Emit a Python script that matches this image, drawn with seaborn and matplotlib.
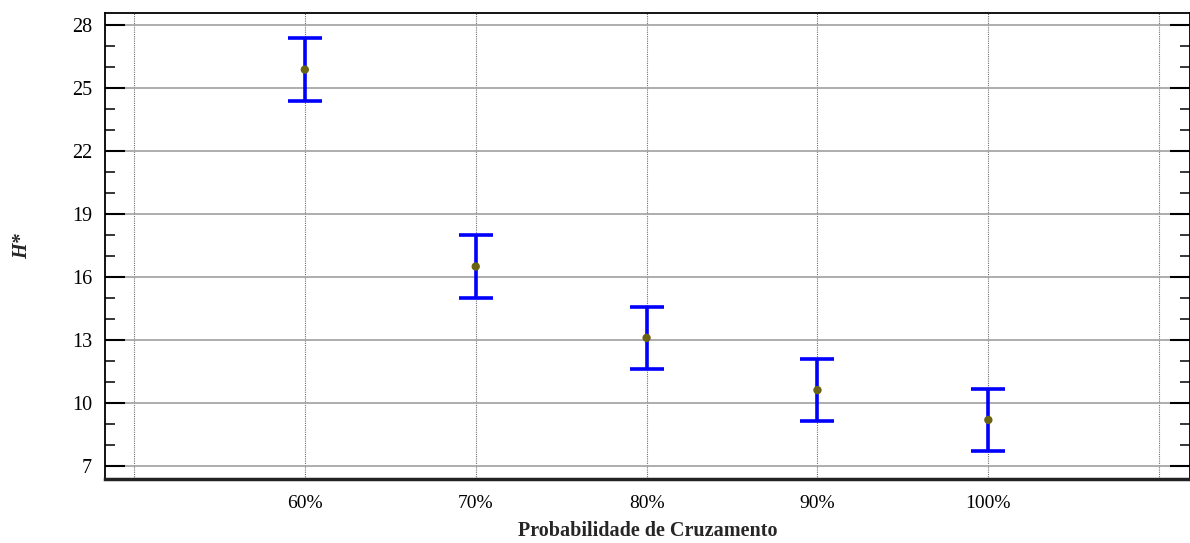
import matplotlib
matplotlib.use("Agg")
import matplotlib.pyplot as plt
from matplotlib.ticker import FixedLocator
import seaborn as sns
import pandas as pd

# Crossover probability levels and the mean H* with its interval half-width
categories = ["60%", "70%", "80%", "90%", "100%"]
mean_h = [25.89, 16.51, 13.11, 10.62, 9.20]
half_width = [1.50, 1.50, 1.48, 1.46, 1.47]

grid_positions = [50, 60, 70, 80, 90, 100, 110]
y_major = [7, 10, 13, 16, 19, 22, 25, 28]
y_minor = list(range(7, 29))

df = pd.DataFrame({
    "prob": [float(c.rstrip("%")) for c in categories],
    "h": mean_h,
    "err": half_width,
})

sns.set_style("white")
plt.rcParams["font.family"] = ["Liberation Serif", "DejaVu Serif"]

fig = plt.figure(figsize=(11.9, 5.43), dpi=100)
ax = fig.add_axes([0.088, 0.1184, 0.912, 0.8582])

# Interval bars
ax.errorbar(df["prob"], df["h"], yerr=df["err"], fmt="none",
            ecolor="#0000ff", elinewidth=2.6, capsize=12.2, capthick=2.6,
            zorder=3)
# Mean markers
sns.scatterplot(data=df, x="prob", y="h", ax=ax, color="#6b6412",
                s=36, edgecolor="none", zorder=4, legend=False)

ax.set_xlim(48.29, 111.8)
ax.set_ylim(6.4, 28.6)

ax.set_xticks(grid_positions)
ax.set_xticklabels([""] + categories + [""])
ax.yaxis.set_major_locator(FixedLocator(y_major))
ax.yaxis.set_minor_locator(FixedLocator(y_minor))

ax.tick_params(axis="x", length=0, labelsize=14, pad=12, colors="black")
ax.tick_params(axis="y", which="major", direction="in", length=14.4,
               width=1.5, left=True, right=True, labelsize=14.5, pad=9,
               colors="black")
ax.tick_params(axis="y", which="minor", direction="in", length=7.2,
               width=1.3, left=True, right=True)

ax.grid(axis="y", which="major", color="#a0a0a0", linewidth=1.2,
        linestyle="-", zorder=0)
ax.grid(axis="x", which="major", color="#707070", linewidth=0.8,
        linestyle=(0, (1, 1)), zorder=0)
ax.set_axisbelow(True)

for side in ["top", "left", "right"]:
    ax.spines[side].set_visible(True)
    ax.spines[side].set_color("black")
    ax.spines[side].set_linewidth(1.3)
ax.spines["bottom"].set_color("#222222")
ax.spines["bottom"].set_linewidth(2.5)

ax.set_xlabel("Probabilidade de Cruzamento", fontsize=14.5, fontweight="bold",
              labelpad=6)
ax.set_ylabel("H*", fontsize=14.5, fontweight="bold", fontstyle="italic",
              labelpad=29)

fig.savefig("out.png", dpi=100)
